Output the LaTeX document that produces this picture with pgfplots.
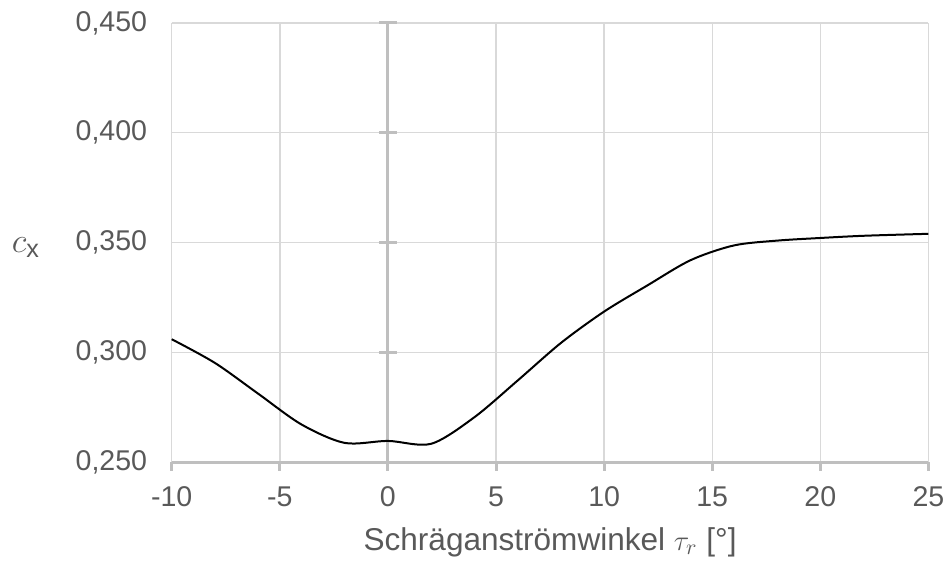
\documentclass[border=0pt]{standalone}
\usepackage{pgfplots}
\pgfplotsset{compat=1.18}
\usepackage{fontspec}
\setmainfont{Liberation Sans}
\definecolor{txt}{HTML}{595959}
\definecolor{grd}{HTML}{D9D9D9}
\definecolor{axl}{HTML}{BFBFBF}
\begin{document}
\begin{tikzpicture}
\begin{axis}[
  scale only axis, width=379pt, height=220pt,
  xmin=-10, xmax=25, ymin=0.25, ymax=0.45,
  xtick={-10,-5,0,5,10,15,20,25},
  ytick={0.25,0.3,0.35,0.4,0.45},
  grid=major, major grid style={grd, line width=0.7pt},
  axis line style={draw=none}, tick style={draw=none},
  /pgf/number format/assume math mode=true,
  ticklabel style={font=\fontsize{14.3pt}{16pt}\selectfont, text=txt},
  yticklabel={\pgfmathprintnumber[fixed, fixed zerofill, precision=3, use comma]{\tick}},
  xticklabel={\pgfmathprintnumber[fixed]{\tick}},
  xticklabel style={anchor=center, yshift=-17.5pt},
  yticklabel style={anchor=east, xshift=-8.8pt},
  every axis x label/.style={at={(rel axis cs:0.5,0)}, anchor=center, yshift=-40pt},
  every axis y label/.style={at={(rel axis cs:0,0.5)}, anchor=center, xshift=-73pt, yshift=-2.5pt},
  label style={text=txt},
  xlabel style={font=\fontsize{15.8pt}{18pt}\selectfont},
  ylabel style={font=\fontsize{18pt}{20pt}\selectfont},
  xlabel={Schräganströmwinkel $\tau_r$ [°]},
  ylabel={$c$\textsubscript{x}},
  clip=false,
]
\coordinate (sw) at (rel axis cs:0,0);
\coordinate (ne) at (rel axis cs:1,1);
\draw[axl, line width=1.5pt] (axis cs:0,0.25) -- (axis cs:0,0.45);
\pgfplotsinvokeforeach{0.3,0.35,0.4,0.45}{
  \draw[axl, line width=1.5pt] ([xshift=-4.3pt]axis cs:0,#1) -- ([xshift=4.3pt]axis cs:0,#1);
}
\draw[axl, line width=1.5pt] (axis cs:-10,0.25) -- (axis cs:25,0.25);
\pgfplotsinvokeforeach{-10,-5,0,5,10,15,20,25}{
  \draw[axl, line width=1.5pt] (axis cs:#1,0.25) -- ([yshift=-4.5pt]axis cs:#1,0.25);
}
\addplot[black, line width=1pt, smooth, mark=none] coordinates {
(-10,0.306) (-8,0.2952) (-6,0.2812) (-4,0.2672) (-2,0.2588) (0,0.2597)
(2,0.2584) (4,0.2705) (6,0.2872) (8,0.3043) (10,0.3186) (12,0.3305)
(14,0.3420) (16,0.3487) (18,0.3509) (20,0.3521) (22,0.3531) (25,0.354)
};
\end{axis}
\path ([xshift=-86pt,yshift=-50.5pt]sw) rectangle ([xshift=10.5pt,yshift=11.5pt]ne);
\end{tikzpicture}
\end{document}
